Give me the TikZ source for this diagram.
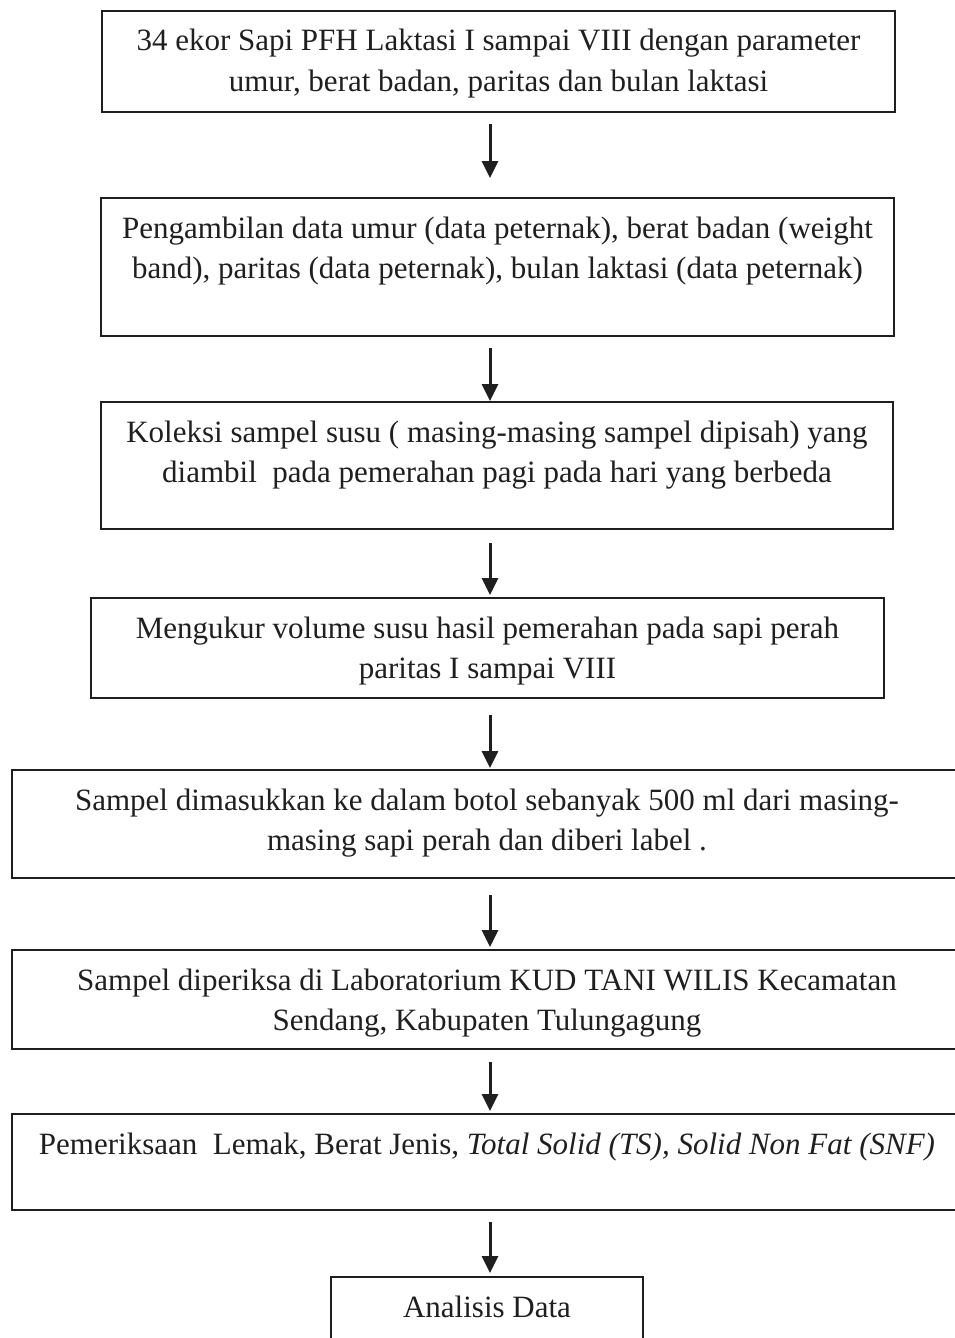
\documentclass[tikz,border=0pt]{standalone}
\usepackage{fontspec}
\setmainfont{Liberation Serif}
\usetikzlibrary{arrows.meta}
\colorlet{ink}{black!88}

\begin{document}
\begin{tikzpicture}[x=1pt, y=-1pt, >={Triangle[width=16pt,length=17pt]},
    stage/.style={draw=ink, text=ink, line width=2pt, anchor=north, align=center,
        inner sep=0pt, text height=40pt, font=\fontsize{31}{40}\selectfont},
    twoline/.style={text height=80pt},
    flow/.style={->, draw=ink, line width=3pt}]
    \useasboundingbox (0,0) rectangle (955,1338);
    \clip (0,0) rectangle (955,1338);
    \coordinate (ax) at (490,0);

    % stages, top to bottom
    \node[stage, twoline, minimum width=793pt, text depth=21pt] (s1) at (498.5,10)
        {34 ekor Sapi PFH Laktasi I sampai VIII dengan parameter\\umur, berat badan, paritas dan bulan laktasi};
    \node[stage, twoline, minimum width=793pt, text depth=58pt] (s2) at (497.5,197)
        {Pengambilan data umur (data peternak), berat badan (weight\\band), paritas (data peternak), bulan laktasi (data peternak)};
    \node[stage, twoline, minimum width=792pt, text depth=47pt] (s3) at (497,401)
        {Koleksi sampel susu ( masing-masing sampel dipisah) yang\\diambil~ pada pemerahan pagi pada hari yang berbeda};
    \node[stage, twoline, minimum width=793pt, text depth=20pt] (s4) at (487.5,597)
        {Mengukur volume susu hasil pemerahan pada sapi perah\\paritas I sampai VIII};
    \node[stage, twoline, minimum width=950pt, text depth=28pt] (s5) at (487,769)
        {Sampel dimasukkan ke dalam botol sebanyak 500 ml dari masing-\\masing sapi perah dan diberi label .};
    \node[stage, twoline, minimum width=950pt, text depth=19pt] (s6) at (487,949)
        {Sampel diperiksa di Laboratorium KUD TANI WILIS Kecamatan\\Sendang, Kabupaten Tulungagung};
    \node[stage, minimum width=950pt, text depth=56pt] (s7) at (487,1113)
        {Pemeriksaan~ Lemak, Berat Jenis, \textit{Total Solid (TS), Solid Non Fat (SNF)}};
    \node[stage, minimum width=312pt, text depth=50pt] (s8) at (487,1276)
        {Analisis Data};

    % arrows
    \draw[flow, shorten <=11pt, shorten >=19pt] (s1.south -| ax) -- (s2.north -| ax);
    \draw[flow, shorten <=11pt, shorten >=0pt] (s2.south -| ax) -- (s3.north -| ax);
    \draw[flow, shorten <=13pt, shorten >=2pt] (s3.south -| ax) -- (s4.north -| ax);
    \draw[flow, shorten <=16pt, shorten >=1pt] (s4.south -| ax) -- (s5.north -| ax);
    \draw[flow, shorten <=16pt, shorten >=2pt] (s5.south -| ax) -- (s6.north -| ax);
    \draw[flow, shorten <=12pt, shorten >=2pt] (s6.south -| ax) -- (s7.north -| ax);
    \draw[flow, shorten <=11pt, shorten >=3pt] (s7.south -| ax) -- (s8.north -| ax);
\end{tikzpicture}
\end{document}
